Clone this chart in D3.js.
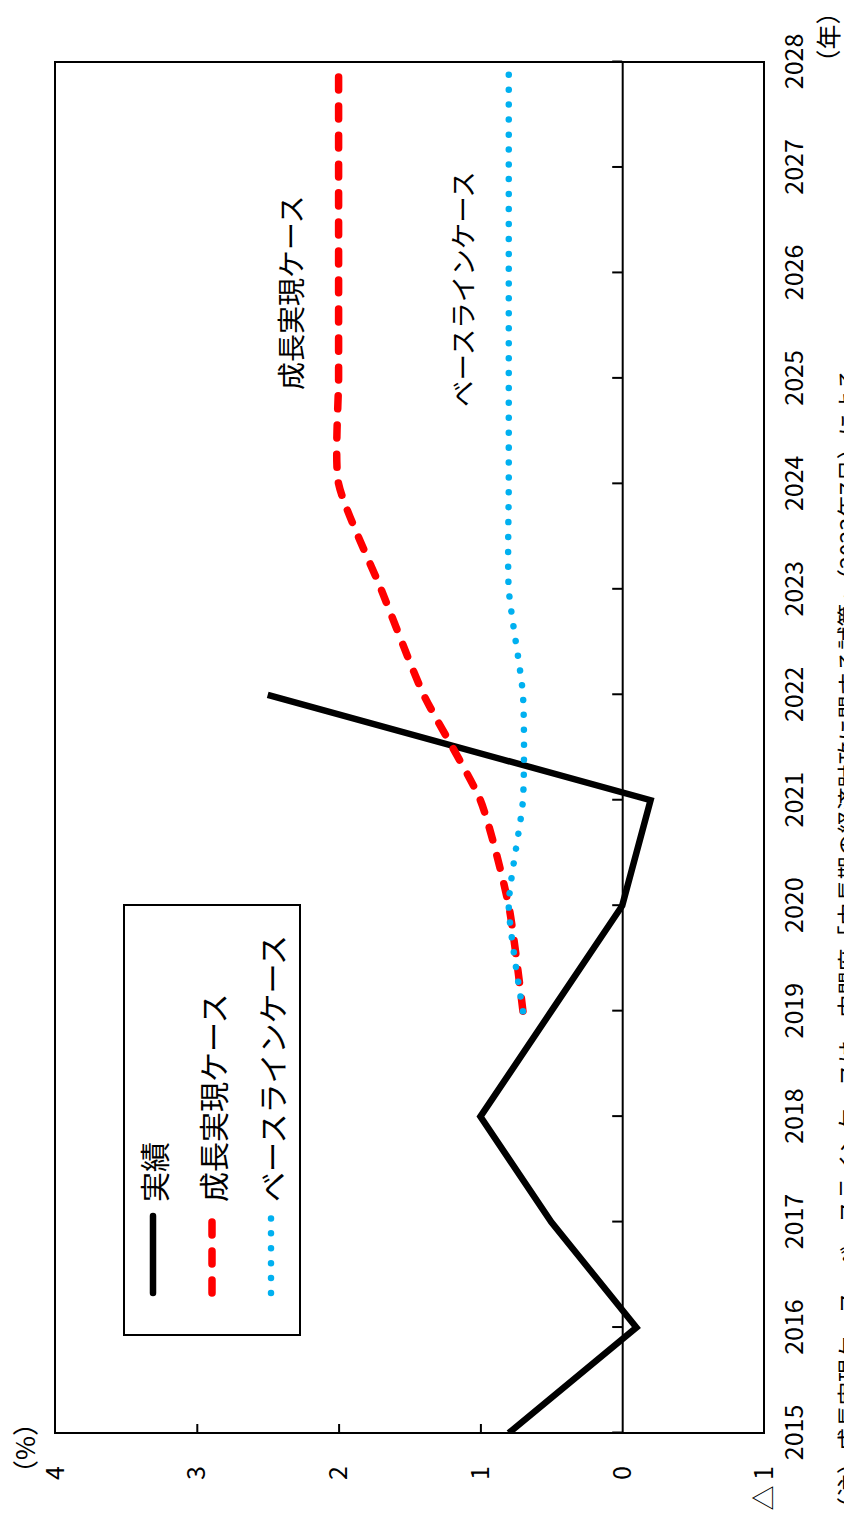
<!DOCTYPE html>
<html><head><meta charset="utf-8">
<script src="https://cdn.jsdelivr.net/npm/d3@7"></script>
<style>
body{margin:0;background:#fff}
svg{display:block}
text{font-family:"Noto Sans CJK JP","Noto Sans",sans-serif;fill:#000}
</style>
</head><body>
<script>
// ---- data ----
const years = [2015,2016,2017,2018,2019,2020,2021,2022,2023,2024,2025,2026,2027,2028];
const yearLabels = years.map(String);
const actualYears = [2015,2016,2017,2018,2019,2020,2021,2022];
const actualValues = [0.8,-0.1,0.5,1.0,0.5,0.0,-0.2,2.5];
const projYears = [2019,2020,2021,2022,2023,2024,2025,2026,2027,2028];
const growthValues = [0.7,0.8,1.0,1.4,1.7,2.0,2.0,2.0,2.0,2.0];
const baselineValues = [0.7,0.8,0.7,0.7,0.8,0.8,0.8,0.8,0.8,0.8];
const valueTicks = [4,3,2,1,0,-1];
const valueTickLabels = ["4","3","2","1","0","△ 1"];
const seriesNames = ["実績","成長実現ケース","ベースラインケース"];
const unitLabel = "（%）";
const yearUnit = "（年）";
const note = "（注）成長実現ケース、ベースラインケースは、内閣府「中長期の経済財政に関する試算」（2023年7月）による。";

// ---- layout (chart drawn upright, then rotated -90deg) ----
const W = 844, H = 1523;
const svg = d3.select("body").append("svg").attr("width", W).attr("height", H);
const g = svg.append("g").attr("transform", `translate(0,${H}) rotate(-90)`);

const x = d3.scaleLinear().domain([2015, 2028]).range([90, 1461]);
const y = d3.scaleLinear().domain([-1, 4]).range([764, 55]);

// frame
g.append("rect").attr("x", x(2015)).attr("y", y(4))
  .attr("width", x(2028) - x(2015)).attr("height", y(-1) - y(4))
  .attr("fill", "none").attr("stroke", "#000").attr("stroke-width", 2);

// zero line with year ticks (pointing up)
const zeroAxis = g.append("g").attr("transform", `translate(0,${y(0)})`)
  .call(d3.axisTop(x).tickValues(years).tickSize(10).tickFormat("").tickSizeOuter(0));
zeroAxis.select(".domain").attr("stroke-width", 2);
zeroAxis.selectAll(".tick line").attr("stroke-width", 2);

// year labels below frame
const yearAxis = g.append("g").attr("transform", `translate(0,${y(-1)})`)
  .call(d3.axisBottom(x).tickValues(years).tickSize(0).tickPadding(21)
    .tickFormat((d, i) => yearLabels[i]));
yearAxis.select(".domain").remove();
yearAxis.selectAll("text").style("font-size", "25px").attr("fill", "#000");

// value axis on left
const valAxis = g.append("g").attr("transform", `translate(${x(2015)},0)`)
  .call(d3.axisLeft(y).tickValues(valueTicks).tickSizeInner(-9).tickSizeOuter(0).tickPadding(33)
    .tickFormat((d, i) => valueTickLabels[i]));
valAxis.select(".domain").remove();
valAxis.selectAll(".tick line").attr("stroke-width", 2)
  .attr("display", d => (d === 4 || d === -1 || d === 0) ? "none" : null);
valAxis.selectAll("text").style("font-size", "25px").attr("fill", "#000");

g.append("text").attr("x", 75).attr("y", 35).attr("text-anchor", "middle")
  .style("font-size", "26px").text(unitLabel);
g.append("text").attr("x", 1486).attr("y", 838).attr("text-anchor", "middle")
  .style("font-size", "25px").text(yearUnit);

// lines
const lineStraight = d3.line().x(d => x(d[0])).y(d => y(d[1]));
const lineSmooth = d3.line().x(d => x(d[0])).y(d => y(d[1])).curve(d3.curveCardinal.tension(0.4));

const actual = actualYears.map((d, i) => [d, actualValues[i]]);
const growth = projYears.map((d, i) => [d, growthValues[i]]);
const base = projYears.map((d, i) => [d, baselineValues[i]]);

svg.append("defs").append("clipPath").attr("id", "plotclip")
  .append("rect").attr("x", x(2015)).attr("y", y(4)).attr("width", x(2028) - x(2015)).attr("height", y(-1) - y(4));

const plot = g.append("g").attr("clip-path", "url(#plotclip)");
plot.append("path").attr("d", lineStraight(actual)).attr("fill", "none")
  .attr("stroke", "#000").attr("stroke-width", 6.5).attr("stroke-linejoin", "miter");
plot.append("path").attr("d", lineSmooth(growth)).attr("fill", "none")
  .attr("stroke", "#FF0000").attr("stroke-width", 7.5).attr("stroke-linecap", "round")
  .attr("stroke-dasharray", "13,16");
plot.append("path").attr("d", lineSmooth(base)).attr("fill", "none")
  .attr("stroke", "#00B0F0").attr("stroke-width", 6.5).attr("stroke-linecap", "round")
  .attr("stroke-dasharray", "0.01,14.9");

// in-plot labels
g.append("text").attr("x", 1133).attr("y", 290).attr("dominant-baseline", "central")
  .style("font-size", "28px").text(seriesNames[1]);
g.append("text").attr("x", 1116).attr("y", 461).attr("dominant-baseline", "central")
  .style("font-size", "26.5px").text(seriesNames[2]);

// legend
const lg = g.append("g");
lg.append("rect").attr("x", 188).attr("y", 124).attr("width", 430).attr("height", 176)
  .attr("fill", "#fff").attr("stroke", "#000").attr("stroke-width", 2);
const legendItems = [
  {name: seriesNames[0], v: 153, color: "#000", dash: null, w: 6.5},
  {name: seriesNames[1], v: 212, color: "#FF0000", dash: "13,16", w: 7.5},
  {name: seriesNames[2], v: 271, color: "#00B0F0", dash: "0.01,14.9", w: 6.5}
];
legendItems.forEach(it => {
  lg.append("line").attr("x1", 230).attr("x2", 307)
    .attr("y1", it.v).attr("y2", it.v)
    .attr("stroke", it.color).attr("stroke-width", it.w).attr("stroke-linecap", "round")
    .attr("stroke-dasharray", it.dash);
  lg.append("text").attr("x", 321).attr("y", it.v).attr("dominant-baseline", "central")
    .style("font-size", "30px").text(it.name);
});

// footnote (mostly outside the visible area, as in the reference)
g.append("text").attr("x", 3).attr("y", 857).style("font-size", "23px").text(note);
</script>
</body></html>
